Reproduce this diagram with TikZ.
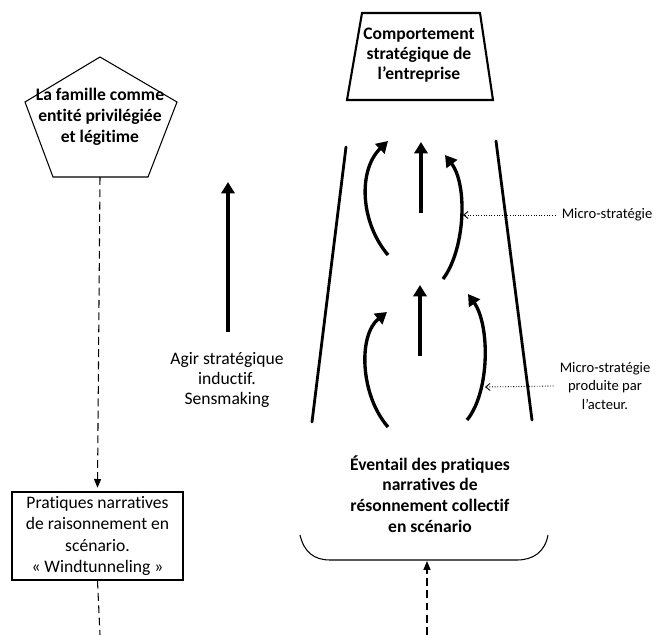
\documentclass[tikz,border=0pt]{standalone}
\usepackage{fontspec}
\setmainfont{Carlito}[Ligatures=CommonOff]
\usetikzlibrary{arrows.meta}
\begin{document}
\begin{tikzpicture}[x=0.02cm,y=-0.02cm,
    flow/.style={line width=1.9pt,-{Triangle[length=6.5pt,width=7.5pt]}},
    side/.style={line width=1.6pt,line cap=round},
    link/.style={line width=0.6pt,dash pattern=on 4.5pt off 2.5pt},
    hint/.style={line width=0.5pt,densely dotted,-{Straight Barb[length=2.5pt,width=4pt]}},
    big/.style={font=\bfseries\fontsize{10}{12}\selectfont,align=center},
    txt/.style={font=\fontsize{10}{11.5}\selectfont,align=center},
    small/.style={font=\fontsize{8.3}{10.3}\selectfont,align=center}]
    \useasboundingbox (0,0) rectangle (656,635);
      % pentagone et trapeze
      \draw[line width=0.6pt] (100,57) -- (177,102) -- (148,177) -- (53,177) -- (25,102) -- cycle;
      \node[big] (fam) at (100,117) {La famille comme\\entité privilégiée\\et légitime};
      \coordinate (famb) at (100,177);
      \draw[line width=1.2pt] (362,13) -- (480,13) -- (493,100) -- (347,100) -- cycle;
      \node[big,font=\bfseries\fontsize{10}{11.5}\selectfont] (comp) at (419,55) {Comportement\\stratégique de\\l’entreprise};
      % bords de l'eventail
      \draw[side] (346,147) -- (312,422);
      \draw[side] (496,141) -- (532,420);
      % micro-strategies
      \draw[flow] (388,255) .. controls (360,222) and (358,170) .. (388,141);
      \draw[flow] (421,213) -- (421,142);
      \draw[flow] (443,279) .. controls (465,250) and (468,185) .. (445,155);
      \draw[flow] (388,427) .. controls (360,395) and (358,335) .. (387,312);
      \draw[flow] (420,356) -- (420,285);
      \draw[flow] (467,420) .. controls (490,392) and (490,325) .. (468,294);
      \coordinate (ua) at (463,215);
      \coordinate (la) at (485,387);
      \node[small] (ms1) at (607,215) {Micro-stratégie};
      \node[small] (ms2) at (605,386) {Micro-stratégie\\produite par\\l’acteur.};
      \draw[hint] (ms1.west) -- (ua);
      \draw[hint] (ms2.west) -- (la);
      % agir strategique
      \coordinate (ag0) at (228,332);
      \coordinate (ag1) at (228,182);
      \draw[flow] (ag0) -- (ag1);
      \node[txt] (agir) at (227,380) {Agir stratégique\\inductif.\\Sensmaking};
      % pratiques
      \node[draw,line width=0.8pt,txt,font=\fontsize{10}{12}\selectfont,minimum width=3.42cm,minimum height=1.76cm,inner sep=1pt] (wind) at (97.5,536) {Pratiques narratives\\de raisonnement en\\scénario.\\« Windtunneling »};
      \node[big,font=\bfseries\fontsize{10}{11.8}\selectfont] (even) at (430,494) {Éventail des pratiques\\narratives de\\résonnement collectif\\en scénario};
      \draw[line width=0.6pt] (300,535) .. controls (304,552) and (314,560) .. (330,560) -- (517,560) .. controls (533,560) and (545,552) .. (548,535);
      \coordinate (brk) at (427,561);
      \coordinate (bot1) at (100,635);
      \coordinate (bot2) at (427,635);
      \draw[link,-{Triangle[length=5pt,width=4pt]}] (famb) -- ([yshift=2pt]wind.north);
      \draw[link] (wind.south) -- (bot1);
      \draw[link,-{Triangle[length=5pt,width=4pt]}] (bot2) -- (brk);
    \end{tikzpicture}
\end{document}
